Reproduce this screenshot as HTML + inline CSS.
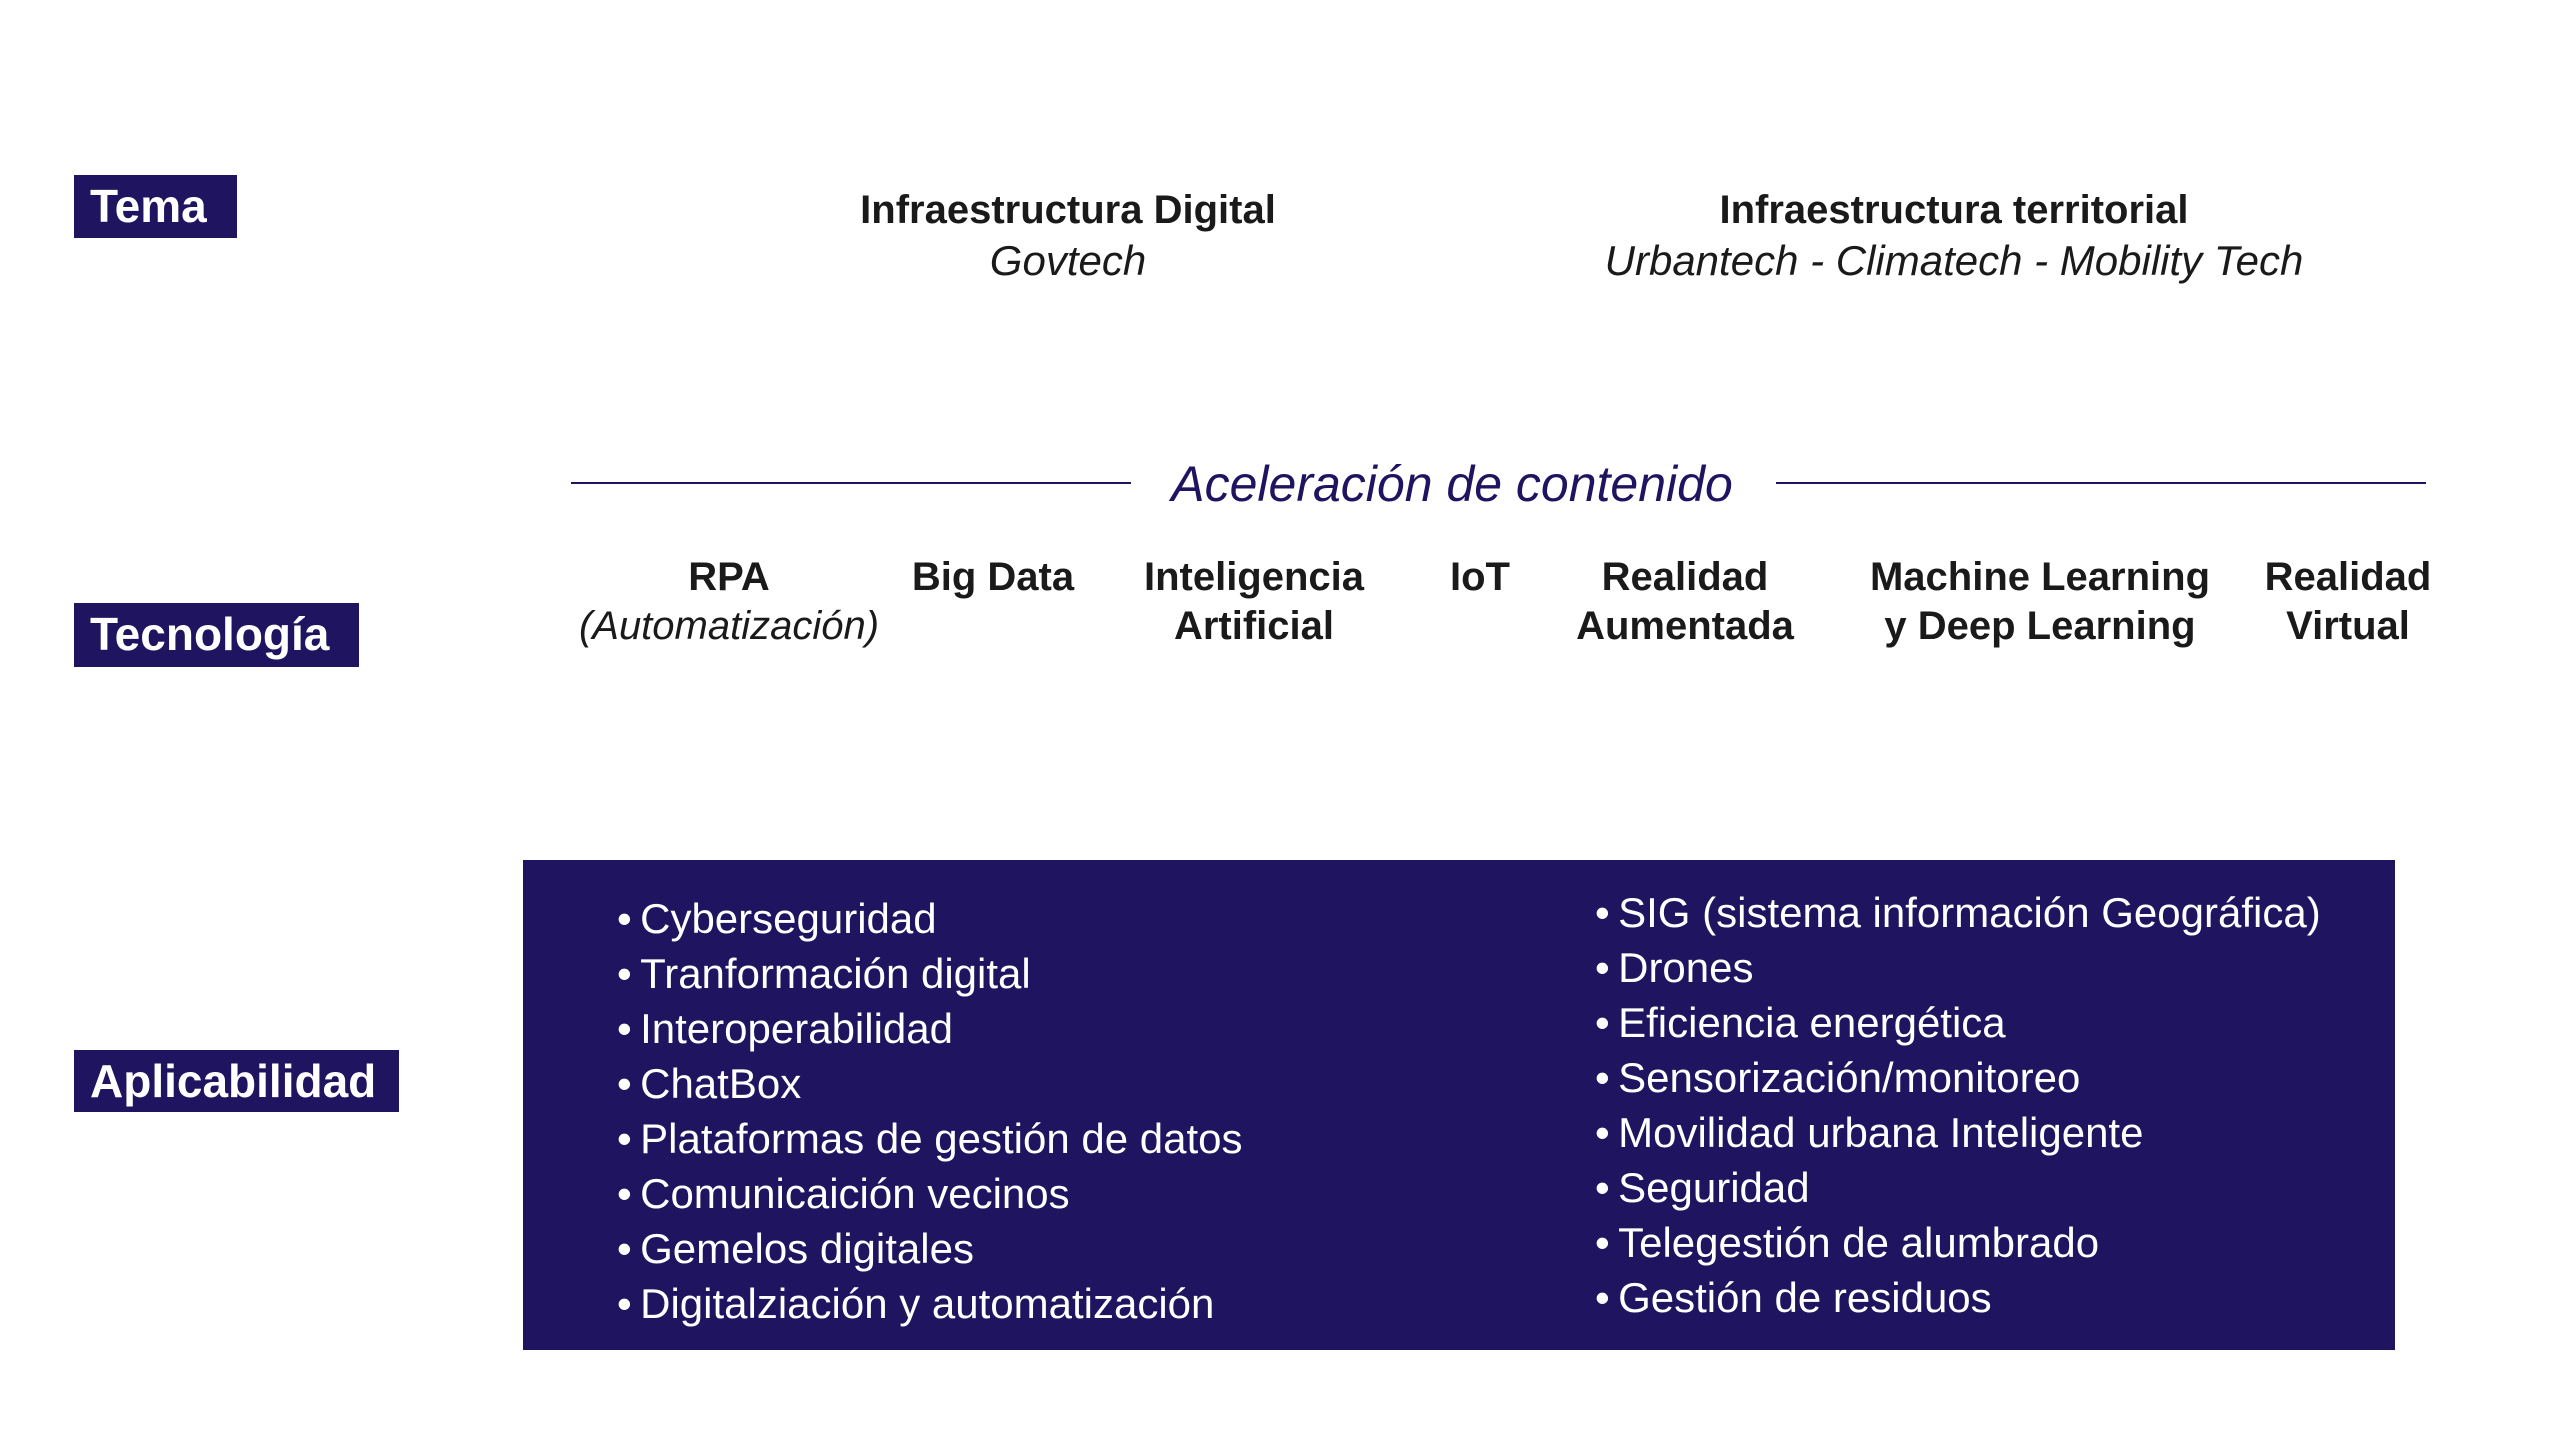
<!DOCTYPE html>
<html><head><meta charset="utf-8"><style>
body{margin:0;width:2560px;height:1440px;background:#fff;position:relative;overflow:hidden;font-family:"Liberation Sans",sans-serif;}
.lab{position:absolute;background:#1f1460;color:#fff;font-size:46px;font-weight:bold;line-height:63px;padding-left:16px;box-sizing:border-box;}
.c{position:absolute;text-align:center;white-space:nowrap;transform:translateX(-50%);color:#1a1a1a;}
.b{font-weight:bold;font-size:40px;line-height:49px;}
.i{font-style:italic;font-size:42px;line-height:49px;}
.box{position:absolute;left:523px;top:860px;width:1872px;height:490px;background:#1f1460;}
.li{position:absolute;color:#fff;font-size:42px;line-height:55px;white-space:nowrap;}
.line{position:absolute;height:2px;background:#1f1460;top:482px;}
</style></head><body>
<div class="lab" style="left:74px;top:175px;width:163px;height:63px;">Tema</div>
<div class="lab" style="left:74px;top:603px;width:285px;height:64px;">Tecnología</div>
<div class="lab" style="left:74px;top:1050px;width:325px;height:62px;">Aplicabilidad</div>

<div class="c b" style="left:1068px;top:186px;">Infraestructura Digital</div>
<div class="c i" style="left:1068px;top:236px;">Govtech</div>
<div class="c b" style="left:1954px;top:186px;">Infraestructura territorial</div>
<div class="c i" style="left:1954px;top:236px;">Urbantech - Climatech - Mobility Tech</div>

<div class="line" style="left:571px;width:560px;"></div>
<div class="line" style="left:1776px;width:650px;"></div>
<div class="c" style="left:1452px;top:454px;font-style:italic;font-size:50px;line-height:60px;color:#1f1460;">Aceleración de contenido</div>

<div class="c b" style="left:729px;top:553px;">RPA<br><span style="font-weight:normal;font-style:italic">(Automatización)</span></div>
<div class="c b" style="left:993px;top:553px;">Big Data</div>
<div class="c b" style="left:1254px;top:553px;">Inteligencia<br>Artificial</div>
<div class="c b" style="left:1480px;top:553px;">IoT</div>
<div class="c b" style="left:1685px;top:553px;">Realidad<br>Aumentada</div>
<div class="c b" style="left:2040px;top:553px;">Machine Learning<br>y Deep Learning</div>
<div class="c b" style="left:2348px;top:553px;">Realidad<br>Virtual</div>

<div class="box"></div>
<div class="li" style="left:617px;top:891px;">•&thinsp;Cyberseguridad<br>•&thinsp;Tranformación digital<br>•&thinsp;Interoperabilidad<br>•&thinsp;ChatBox<br>•&thinsp;Plataformas de gestión de datos<br>•&thinsp;Comunicaición vecinos<br>•&thinsp;Gemelos digitales<br>•&thinsp;Digitalziación y automatización</div>
<div class="li" style="left:1595px;top:885px;">•&thinsp;SIG (sistema información Geográfica)<br>•&thinsp;Drones<br>•&thinsp;Eficiencia energética<br>•&thinsp;Sensorización/monitoreo<br>•&thinsp;Movilidad urbana Inteligente<br>•&thinsp;Seguridad<br>•&thinsp;Telegestión de alumbrado<br>•&thinsp;Gestión de residuos</div>
</body></html>
